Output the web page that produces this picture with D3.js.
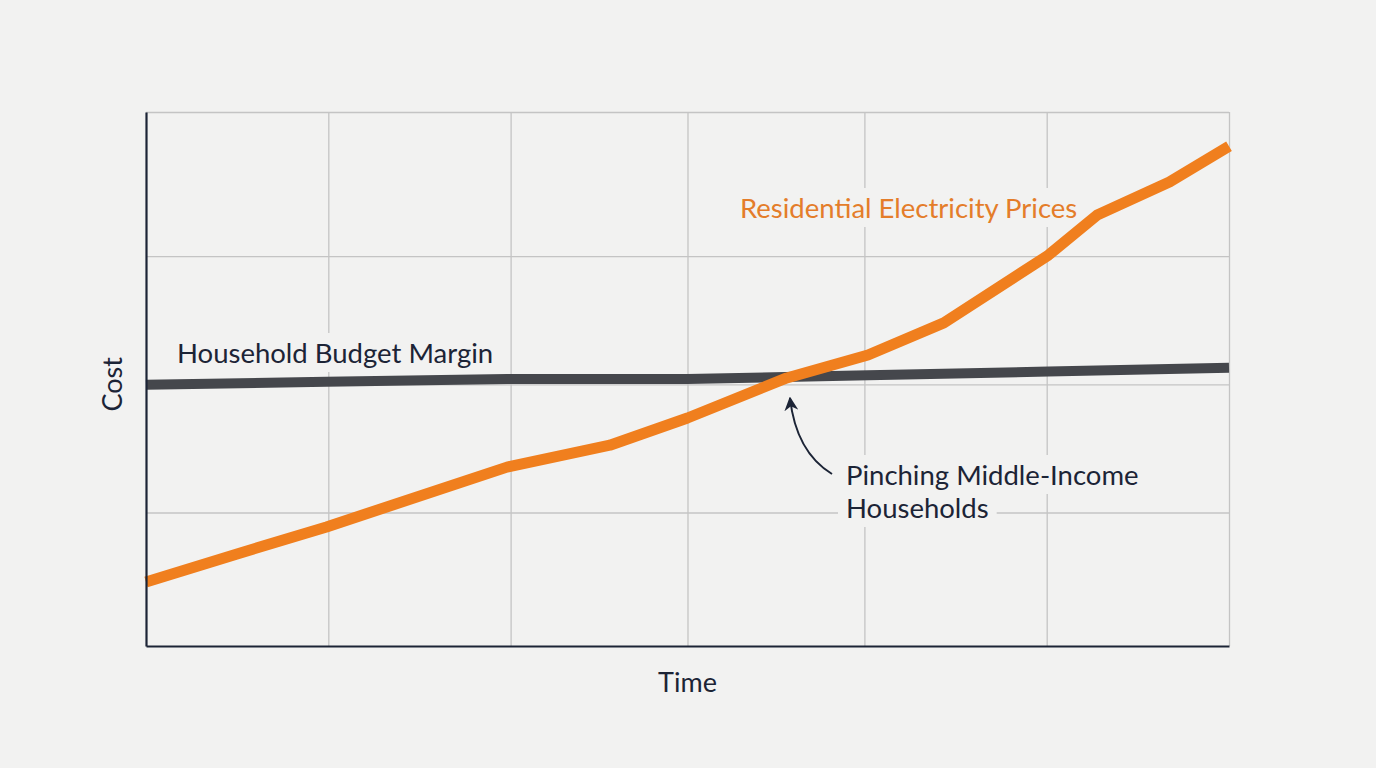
<!DOCTYPE html>
<html>
<head>
<meta charset="utf-8">
<script src="https://cdn.jsdelivr.net/npm/d3@7"></script>
<style>
  html, body { margin: 0; padding: 0; background: #f2f2f1; }
  svg { display: block; }
</style>
</head>
<body>
<div id="chart"></div>
<script>
// time steps (no labels on the axis, just "Time")
var budgetX = [0, 1, 2, 3, 4, 5, 6];
var budgetY = [48.9, 49.5, 50.0, 50.0, 50.7, 51.4, 52.1];

var priceX = [0, 0.5, 1, 2, 2.57, 3, 3.55, 4, 4.42, 5, 5.27, 5.67, 6];
var priceY = [12.0, 17.2, 22.3, 33.5, 37.6, 42.7, 50.2, 54.5, 60.5, 73.2, 80.7, 86.9, 93.6];

var xGrid = [1.01, 2.02, 3, 3.98, 4.99, 6];
var yGrid = [25, 49, 73, 100];

var width = 1376, height = 768;
var margin = {top: 112, right: 147, bottom: 122, left: 146};

var bg = "#f2f2f1";
var ink = "#1c2436";
var orange = "#f07f1e";
var slate = "#45474c";
var font = "Lato, 'Open Sans', sans-serif";

var svg = d3.select("#chart")
            .append("svg")
            .attr("width", width)
            .attr("height", height);

svg.append("rect")
    .attr("width", width)
    .attr("height", height)
    .attr("fill", bg);

var x = d3.scaleLinear().domain([0, 6]).range([margin.left, width - margin.right]);
var y = d3.scaleLinear().domain([0, 100]).range([height - margin.bottom, margin.top]);

// Gridlines
var gx = svg.append("g")
    .attr("transform", "translate(0," + (height - margin.bottom) + ")")
    .call(d3.axisBottom(x).tickValues(xGrid).tickSize(-(y(0) - y(100))).tickFormat(""));
var gy = svg.append("g")
    .attr("transform", "translate(" + margin.left + ",0)")
    .call(d3.axisLeft(y).tickValues(yGrid).tickSize(-(x(6) - x(0))).tickFormat(""));
[gx, gy].forEach(function(g) {
    g.select(".domain").remove();
    g.selectAll(".tick line")
        .attr("stroke", "#c4c4c4")
        .attr("stroke-width", 1.3);
});

// layers: label patches sit under the lines, label text on top
var patchLayer = svg.append("g");
var lineLayer = svg.append("g");
var textLayer = svg.append("g");

// Lines
var line = d3.line()
    .x(function(d) { return x(d[0]); })
    .y(function(d) { return y(d[1]); });

lineLayer.append("path")
    .datum(budgetX.map(function(v, i) { return [v, budgetY[i]]; }))
    .attr("d", line)
    .attr("fill", "none")
    .attr("stroke", slate)
    .attr("stroke-width", 10);

lineLayer.append("path")
    .datum(priceX.map(function(v, i) { return [v, priceY[i]]; }))
    .attr("d", line)
    .attr("fill", "none")
    .attr("stroke", orange)
    .attr("stroke-width", 11)
    .attr("stroke-linejoin", "round");

// Axis lines
svg.append("g")
    .attr("transform", "translate(" + margin.left + ",0)")
    .call(d3.axisLeft(y).tickValues([]).tickSizeOuter(0))
    .select(".domain")
    .attr("stroke", ink)
    .attr("stroke-width", 2.2);
svg.append("g")
    .attr("transform", "translate(0," + (height - margin.bottom) + ")")
    .call(d3.axisBottom(x).tickValues([]).tickSizeOuter(0))
    .select(".domain")
    .attr("stroke", ink)
    .attr("stroke-width", 2.2);

// Axis titles
svg.append("text")
    .text("Time")
    .attr("x", x(3))
    .attr("y", 692)
    .attr("text-anchor", "middle")
    .attr("font-family", font)
    .attr("font-size", "27px")
    .attr("fill", ink);

svg.append("text")
    .text("Cost")
    .attr("transform", "translate(122," + y(49) + ") rotate(-90)")
    .attr("text-anchor", "middle")
    .attr("font-family", font)
    .attr("font-size", "27px")
    .attr("fill", ink);

// Labels with a background patch so gridlines break around them
function label(txt, px, py, color) {
    var t = textLayer.append("text")
        .text(txt)
        .attr("x", px)
        .attr("y", py)
        .attr("font-family", font)
        .attr("font-size", "27.5px")
        .attr("fill", color);
    var b = t.node().getBBox();
    patchLayer.append("rect")
        .attr("x", b.x - 8)
        .attr("y", b.y - 3)
        .attr("width", b.width + 16)
        .attr("height", b.height + 6)
        .attr("fill", bg);
}

// arrow marker
svg.append("defs").append("marker")
    .attr("id", "head")
    .attr("viewBox", "0 0 10 10")
    .attr("refX", 9)
    .attr("refY", 5)
    .attr("markerWidth", 14)
    .attr("markerHeight", 14)
    .attr("markerUnits", "userSpaceOnUse")
    .attr("orient", "auto")
    .append("path")
    .attr("d", "M0,0 L10,5 L0,10 L3,5 Z")
    .attr("fill", ink);

label("Pinching Middle-Income", 846, 485, ink);
label("Households", 846, 518, ink);

var p = d3.path();
p.moveTo(832, 474);
p.quadraticCurveTo(796, 452, 790, 398);
textLayer.append("path")
    .attr("d", p.toString())
    .attr("fill", "none")
    .attr("stroke", ink)
    .attr("stroke-width", 2)
    .attr("marker-end", "url(#head)");

label("Household Budget Margin", 177, 363, ink);
label("Residential Electricity Prices", 740, 218, "#e47d2a");
</script>
</body>
</html>
